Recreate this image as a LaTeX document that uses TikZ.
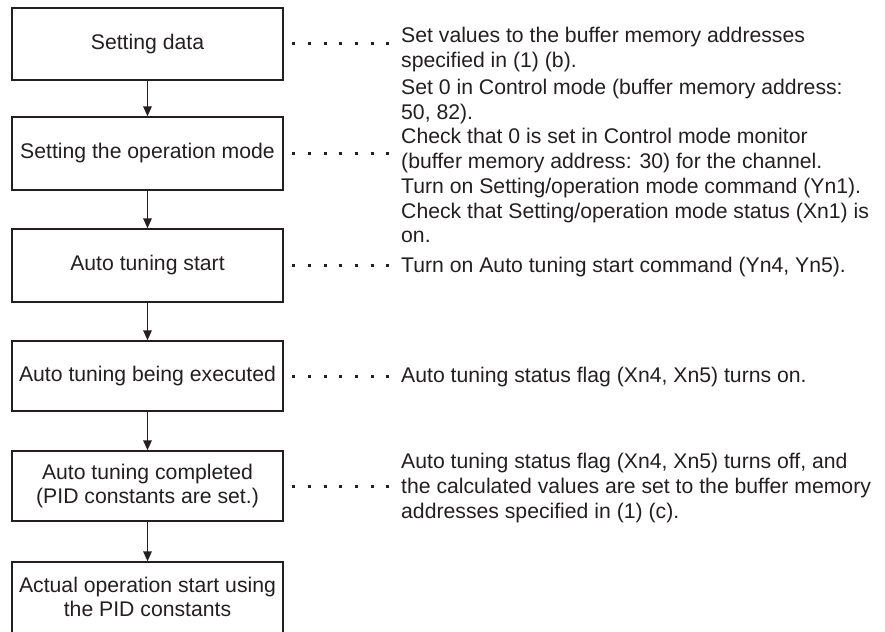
\documentclass[tikz,border=0pt]{standalone}
\usepackage{fontspec}
\setmainfont{Liberation Sans}
\usetikzlibrary{arrows.meta}
\definecolor{ink}{HTML}{231F20}
\begin{document}
\begin{tikzpicture}[x=1pt,y=-1pt,
  font=\fontsize{21.2}{24.7}\selectfont, text=ink,
  stepbox/.style={draw=ink, line width=1.4pt, minimum width=271pt, inner sep=0pt, align=center},
  flow/.style={draw=ink, line width=1.5pt, -{Triangle[length=10pt,width=8.5pt]}},
  dotline/.style={draw=ink, line width=3pt, dash pattern=on 3pt off 12.67pt},
  note/.style={anchor=base west, inner sep=0pt}]
\useasboundingbox (0,0) rectangle (885,631);
% flow boxes
\node[stepbox, minimum height=72pt] (b1) at (147.5,44) {Setting data};
\node[stepbox, minimum height=73pt] (b2) at (147.5,153.5) {Setting the operation mode};
\node[stepbox, minimum height=73pt] (b3) at (147.5,265.5) {Auto tuning start};
\node[stepbox, minimum height=70pt] (b4) at (147.5,376) {Auto tuning being executed};
\node[stepbox, minimum height=70pt] (b5) at (147.5,486) {Auto tuning completed\\(PID constants are set.)};
\node[stepbox, minimum height=80pt] (b6) at (147.5,602) {};
\node[align=center, inner sep=0pt] (b6t) at (147.5,597) {Actual operation start using\\the PID constants};
% arrows
\draw[flow] (b1) -- (b2);
\draw[flow] (b2) -- (b3);
\draw[flow] (b3) -- (b4);
\draw[flow] (b4) -- (b5);
\draw[flow] (b5) -- (b6);
% notes
\node[note] (t1) at (401,42.6) {\begin{tabular}[t]{@{}l@{}}Set values to the buffer memory addresses\\specified in (1) (b).\end{tabular}};
\node[note] (t2) at (401,94.6) {\begin{tabular}[t]{@{}l@{}}Set 0 in Control mode (buffer memory address:\\50, 82).\\Check that 0 is set in Control mode monitor\\(buffer memory address: 30) for the channel.\\Turn on Setting/operation mode command (Yn1).\\Check that Setting/operation mode status (Xn1) is\\on.\end{tabular}};
\node[note] (t3) at (401,272.6) {Turn on Auto tuning start command (Yn4, Yn5).};
\node[note] (t4) at (401,382.6) {Auto tuning status flag (Xn4, Xn5) turns on.};
\node[note] (t5) at (401,468.9) {\begin{tabular}[t]{@{}l@{}}Auto tuning status flag (Xn4, Xn5) turns off, and\\the calculated values are set to the buffer memory\\addresses specified in (1) (c).\end{tabular}};
% dotted leaders
\draw[dotline] ([xshift=8.5pt]b1.east) -- ++(97,0);
\draw[dotline] ([xshift=8.5pt]b2.east) -- ++(97,0);
\draw[dotline] ([xshift=8.5pt]b3.east) -- ++(97,0);
\draw[dotline] ([xshift=8.5pt]b4.east) -- ++(97,0);
\draw[dotline] ([xshift=8.5pt]b5.east) -- ++(97,0);
\end{tikzpicture}
\end{document}
